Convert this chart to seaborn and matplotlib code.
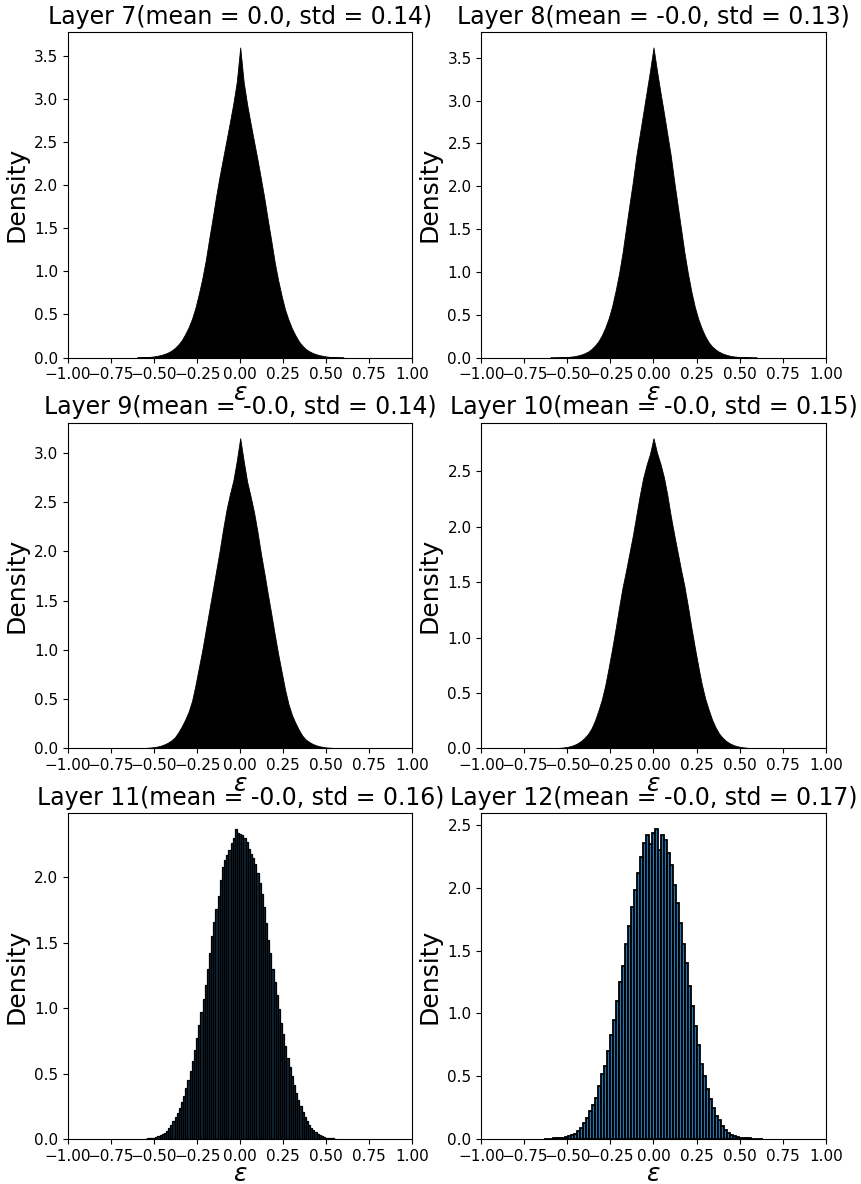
import numpy as np
import pandas as pd
import matplotlib
matplotlib.use("Agg")
import matplotlib.pyplot as plt
import seaborn as sns

# x grids (bin centres) used by the histograms
grid_02 = np.round(np.arange(-0.60, 0.6001, 0.02), 4)      # layers 7-10
grid_0125 = np.round(np.arange(-0.55, 0.5501, 0.0125), 4)  # layer 11
grid_0175 = np.round(np.arange(-0.63, 0.6301, 0.0175), 4)  # layer 12

layer_ids = [7, 8, 9, 10, 11, 12]
layer_means = ["0.0", "-0.0", "-0.0", "-0.0", "-0.0", "-0.0"]
layer_stds = ["0.14", "0.13", "0.14", "0.15", "0.16", "0.17"]

# bin densities
dens_7 = [0.001, 0.002, 0.004, 0.006, 0.009, 0.014, 0.021, 0.03, 0.042, 0.058,
          0.08, 0.11, 0.15, 0.2, 0.27, 0.35, 0.45, 0.58, 0.74, 0.92,
          1.13, 1.38, 1.62, 1.87, 2.1, 2.31, 2.52, 2.73, 2.95, 3.2,
          3.6,
          3.2, 2.94, 2.72, 2.51, 2.3, 2.08, 1.85, 1.6, 1.36, 1.11,
          0.9, 0.72, 0.56, 0.44, 0.34, 0.26, 0.19, 0.14, 0.1, 0.074,
          0.054, 0.039, 0.028, 0.02, 0.013, 0.008, 0.005, 0.003, 0.002, 0.001]
dens_8 = [0.0007, 0.001, 0.002, 0.003, 0.005, 0.007, 0.011, 0.016, 0.024, 0.035,
          0.05, 0.07, 0.1, 0.14, 0.19, 0.26, 0.35, 0.46, 0.6, 0.78,
          0.98, 1.22, 1.5, 1.78, 2.05, 2.35, 2.6, 2.85, 3.1, 3.35,
          3.62,
          3.35, 3.1, 2.86, 2.61, 2.36, 2.06, 1.78, 1.5, 1.22, 0.98,
          0.77, 0.59, 0.45, 0.34, 0.25, 0.18, 0.13, 0.095, 0.068, 0.048,
          0.034, 0.023, 0.015, 0.01, 0.007, 0.005, 0.003, 0.002, 0.001, 0.0007]
dens_9 = [0.001, 0.002, 0.003, 0.005, 0.008, 0.012, 0.018, 0.027, 0.04, 0.057,
          0.08, 0.11, 0.16, 0.22, 0.29, 0.37, 0.48, 0.64, 0.82, 1.0,
          1.2, 1.4, 1.6, 1.8, 2.0, 2.22, 2.42, 2.58, 2.72, 2.92,
          3.15,
          2.92, 2.71, 2.56, 2.4, 2.2, 1.98, 1.78, 1.57, 1.37, 1.16,
          0.96, 0.78, 0.6, 0.45, 0.34, 0.26, 0.19, 0.13, 0.09, 0.065,
          0.045, 0.031, 0.021, 0.014, 0.009, 0.006, 0.004, 0.003, 0.002, 0.001]
dens_10 = [0.001, 0.002, 0.003, 0.005, 0.008, 0.013, 0.02, 0.031, 0.046, 0.067,
           0.095, 0.13, 0.18, 0.25, 0.34, 0.44, 0.57, 0.73, 0.9, 1.08,
           1.27, 1.45, 1.6, 1.76, 1.92, 2.1, 2.28, 2.44, 2.56, 2.66,
           2.8,
           2.67, 2.57, 2.45, 2.29, 2.1, 1.93, 1.77, 1.61, 1.46, 1.28,
           1.09, 0.91, 0.74, 0.58, 0.45, 0.35, 0.26, 0.19, 0.135, 0.097,
           0.068, 0.047, 0.032, 0.021, 0.014, 0.009, 0.005, 0.003, 0.002, 0.001]
dens_11 = [0.003, 0.004, 0.006, 0.008, 0.011, 0.015, 0.02, 0.027, 0.036, 0.048,
           0.064, 0.085, 0.11, 0.14, 0.17, 0.2, 0.24, 0.28, 0.33, 0.39,
           0.45, 0.52, 0.6, 0.68, 0.77, 0.87, 0.97, 1.07, 1.18, 1.3,
           1.42, 1.55, 1.66, 1.76, 1.86, 1.98, 2.08, 2.13, 2.17, 2.21,
           2.26, 2.3, 2.37, 2.34, 2.33, 2.32, 2.3, 2.27, 2.22, 2.18,
           2.15, 2.1, 2.03, 1.96, 1.87, 1.77, 1.65, 1.52, 1.42, 1.3,
           1.2, 1.1, 0.99, 0.89, 0.8, 0.71, 0.62, 0.55, 0.48, 0.41,
           0.35, 0.3, 0.25, 0.21, 0.17, 0.14, 0.11, 0.085, 0.066, 0.05,
           0.038, 0.028, 0.021, 0.015, 0.011, 0.008, 0.006, 0.004, 0.003]
dens_12 = [0.002, 0.003, 0.004, 0.005, 0.007, 0.009, 0.012, 0.016, 0.022, 0.03,
           0.042, 0.06, 0.09, 0.13, 0.17, 0.22, 0.27, 0.33, 0.42, 0.52,
           0.58, 0.7, 0.83, 0.95, 1.1, 1.25, 1.38, 1.55, 1.7, 1.85,
           1.98, 2.12, 2.25, 2.36, 2.42, 2.35, 2.44, 2.47, 2.3, 2.42,
           2.38, 2.28, 2.18, 2.02, 1.88, 1.72, 1.55, 1.4, 1.22, 1.06,
           0.9, 0.75, 0.6, 0.5, 0.4, 0.32, 0.25, 0.18, 0.15, 0.1,
           0.075, 0.045, 0.032, 0.022, 0.015, 0.01, 0.008, 0.006, 0.005, 0.004,
           0.003, 0.002, 0.002]

layer_grids = [grid_02, grid_02, grid_02, grid_02, grid_0125, grid_0175]
layer_dens = [dens_7, dens_8, dens_9, dens_10, dens_11, dens_12]
# layers 7-10 have bins so fine the bars merge into a solid black shape
elements = ["poly", "poly", "poly", "poly", "bars", "bars"]
fill_colors = ["black", "black", "black", "black", "#12283a", "#1f77b4"]
edge_widths = [0.6, 0.6, 0.6, 0.6, 0.9, 1.3]

fig, axes = plt.subplots(3, 2, figsize=(8.61, 11.84), dpi=100)
plt.subplots_adjust(left=0.079, right=0.959, bottom=0.038, top=0.973,
                    wspace=0.2, hspace=0.2)

for ax, lid, m, s, g, d, el, fc, lw in zip(axes.flat, layer_ids, layer_means, layer_stds,
                                           layer_grids, layer_dens, elements,
                                           fill_colors, edge_widths):
    df = pd.DataFrame({"eps": g, "density": d})
    w = float(g[1] - g[0])
    sns.histplot(data=df, x="eps", weights="density", binwidth=w,
                 binrange=(g[0] - w / 2, g[-1] + w / 2), element=el, ax=ax,
                 color=fc, edgecolor="black", linewidth=lw, alpha=1)
    ax.set_xlim(-1, 1)
    ax.set_xticks([-1.0, -0.75, -0.5, -0.25, 0.0, 0.25, 0.5, 0.75, 1.0])
    ax.set_title(f"Layer {lid}(mean = {m}, std = {s})", fontsize=17)
    ax.set_ylabel("Density", fontsize=18)
    ax.set_xlabel(r"$\epsilon$", fontsize=18, labelpad=-1)
    ax.tick_params(labelsize=11)

fig.savefig("out.png", dpi=100)
